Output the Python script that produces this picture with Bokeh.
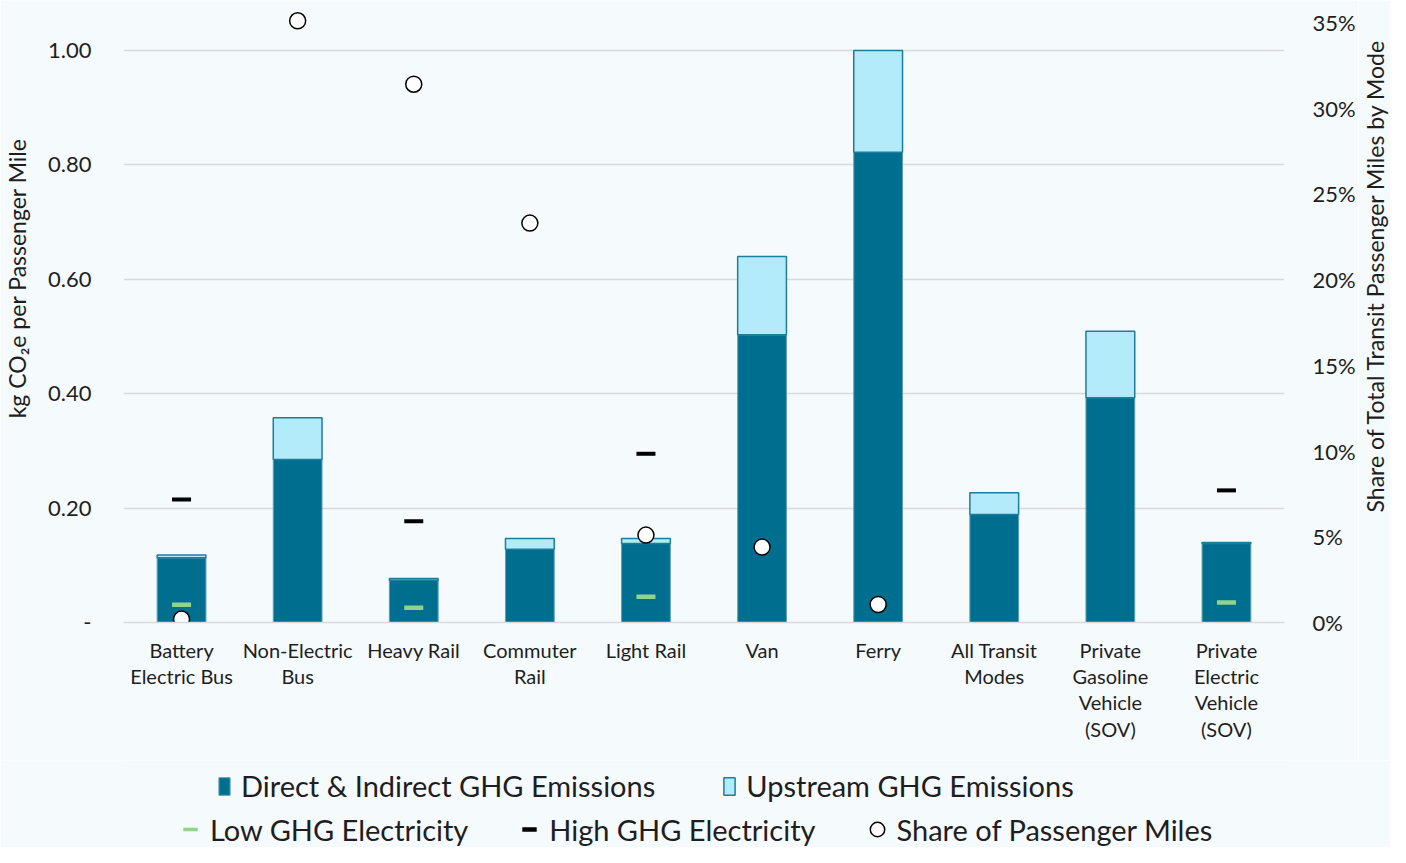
from bokeh.plotting import figure
from bokeh.layouts import column, row
from bokeh.models import (FactorRange, Range1d, LinearAxis, FixedTicker, Title,
                          NumeralTickFormatter, Legend, LegendItem, ColumnDataSource)
from bokeh.embed import file_html
from bokeh.resources import INLINE

categories = ["Battery\nElectric Bus", "Non-Electric\nBus", "Heavy Rail", "Commuter\nRail",
              "Light Rail", "Van", "Ferry", "All Transit\nModes",
              "Private\nGasoline\nVehicle\n(SOV)", "Private\nElectric\nVehicle\n(SOV)"]
direct = [0.113, 0.285, 0.074, 0.128, 0.138, 0.503, 0.822, 0.189, 0.393, 0.138]
upstream = [0.005, 0.073, 0.003, 0.019, 0.009, 0.137, 0.178, 0.038, 0.116, 0.002]

elec_modes = ["Battery\nElectric Bus", "Heavy Rail", "Light Rail", "Private\nElectric\nVehicle\n(SOV)"]
high_ghg = [0.215, 0.177, 0.295, 0.231]
low_ghg = [0.031, 0.026, 0.045, 0.035]

share_modes = ["Battery\nElectric Bus", "Non-Electric\nBus", "Heavy Rail", "Commuter\nRail",
               "Light Rail", "Van", "Ferry"]
share = [0.002, 0.351, 0.314, 0.233, 0.051, 0.044, 0.0105]

left_ticks = [0, 0.2, 0.4, 0.6, 0.8, 1.0]
right_ticks = [0, 0.05, 0.10, 0.15, 0.20, 0.25, 0.30, 0.35]

left_title = "kg CO₂e per Passenger Mile"
right_title = "Share of Total Transit Passenger Miles by Mode"
legend_row1 = ["Direct & Indirect GHG Emissions", "Upstream GHG Emissions"]
legend_row2 = ["Low GHG Electricity", "High GHG Electricity", "Share of Passenger Miles"]

BG = "#F5FAFD"
DARK = "#006F8F"
LIGHT = "#B3EBFA"
DARK_LINE = "#5E9FB8"
LIGHT_LINE = "#1C7E9E"
GREEN = "#92D38A"
TXT = "#1E1E1E"
FONT = "Lato"
GRID = "#D9D9D9"
W = 1390
W_TITLE = 32
NBSP = "\u00a0"

p = figure(x_range=FactorRange(*categories), y_range=Range1d(0, 1.07),
           width=W - W_TITLE, height=760, output_backend="svg", toolbar_location=None,
           background_fill_color=BG, border_fill_color=BG, outline_line_color=None,
           min_border_top=10, min_border_left=122, min_border_right=70, min_border_bottom=138)
p.extra_y_ranges = {"share": Range1d(0, 0.357)}

src = ColumnDataSource(dict(x=categories, direct=direct, upstream=upstream))
rs = p.vbar_stack(["direct", "upstream"], x="x", width=0.42, source=src,
                  fill_color=[DARK, LIGHT], line_color=[DARK_LINE, LIGHT_LINE],
                  line_width=[1, 1.5])

p.scatter(x=elec_modes, y=low_ghg, marker="dash", size=19, line_width=4.5, line_color=GREEN)
p.scatter(x=elec_modes, y=high_ghg, marker="dash", size=19, line_width=4, line_color="black")
p.scatter(x=share_modes, y=share, y_range_name="share", marker="circle",
          size=16, fill_color="white", line_color="black", line_width=1.5)

# left axis
yax = p.yaxis[0]
yax.ticker = FixedTicker(ticks=left_ticks)
yax.formatter = NumeralTickFormatter(format="0.00")
yax.major_label_overrides = {0: "-"}
yax.axis_label = NBSP * 13 + left_title
yax.major_label_standoff = 26
yax.axis_label_standoff = 14
yax.major_label_text_font_size = "22px"
yax.axis_label_text_font_size = "23px"
yax.axis_label_text_font_style = "normal"

# right axis (its title is drawn in a narrow strip to the right, reading upwards)
rax = LinearAxis(y_range_name="share", ticker=FixedTicker(ticks=right_ticks),
                 formatter=NumeralTickFormatter(format="0%"))
rax.major_label_standoff = 22
rax.major_label_text_font_size = "22px"
p.add_layout(rax, "right")

xax = p.xaxis[0]
xax.axis_line_color = GRID
xax.axis_line_width = 1.5
xax.major_label_standoff = 9
xax.major_label_text_font_size = "20px"
xax.major_label_text_line_height = 1.1

for ax in (yax, rax):
    ax.axis_line_color = None

for ax in (yax, rax, xax):
    ax.major_tick_line_color = None
    ax.minor_tick_line_color = None
    ax.major_label_text_font = FONT
    ax.axis_label_text_font = FONT
    ax.major_label_text_color = TXT
    ax.axis_label_text_color = TXT

p.xgrid.grid_line_color = None
p.ygrid.ticker = FixedTicker(ticks=left_ticks)
p.ygrid.grid_line_color = GRID
p.ygrid.grid_line_width = 1.5

# right title strip
rt = figure(width=W_TITLE, height=760, x_range=Range1d(0, 1), y_range=Range1d(0, 1),
            output_backend="svg", toolbar_location=None, x_axis_location=None,
            y_axis_location=None, background_fill_color=BG, border_fill_color=BG,
            outline_line_color=None, min_border_top=10, min_border_bottom=138,
            min_border_left=0, min_border_right=0)
rt.xgrid.visible = False
rt.ygrid.visible = False
rt.add_layout(Title(text=NBSP * 14 + right_title, align="center", standoff=0,
                    text_font=FONT, text_font_size="23px", text_font_style="normal",
                    text_color=TXT), "left")

# legend strip below the chart
lg = figure(width=W, height=87, x_range=Range1d(0, 1), y_range=Range1d(0, 1),
            output_backend="svg", toolbar_location=None, x_axis_location=None,
            y_axis_location=None, background_fill_color=BG, border_fill_color=BG,
            outline_line_color=None, min_border_top=0, min_border_bottom=0,
            min_border_left=122, min_border_right=102)
lg.xgrid.visible = False
lg.ygrid.visible = False
nan = float("nan")
proxy = ColumnDataSource(dict(x=[nan], y=[nan]))
g_direct = lg.vbar(x="x", top="y", width=0.1, source=proxy, fill_color=DARK, line_color=DARK_LINE)
g_up = lg.vbar(x="x", top="y", width=0.1, source=proxy, fill_color=LIGHT, line_color=LIGHT_LINE, line_width=1.5)
g_low = lg.scatter(x="x", y="y", source=proxy, marker="dash", line_width=3.5, line_color=GREEN)
g_high = lg.scatter(x="x", y="y", source=proxy, marker="dash", line_width=4.5, line_color="black")
g_share = lg.scatter(x="x", y="y", source=proxy, marker="circle", fill_color="white",
                     line_color="black", line_width=1.5)

common = dict(orientation="horizontal", padding=0, margin=0, background_fill_alpha=0,
              border_line_color=None, label_text_font=FONT, label_text_font_size="29px",
              label_text_color=TXT)
leg1 = Legend(items=[LegendItem(label=legend_row1[0], renderers=[g_direct]),
                     LegendItem(label=legend_row1[1], renderers=[g_up])],
              location=(95, 44), glyph_width=14, glyph_height=22,
              label_standoff=10, spacing=67, **common)
leg2 = Legend(items=[LegendItem(label=legend_row2[0], renderers=[g_low]),
                     LegendItem(label=legend_row2[1], renderers=[g_high]),
                     LegendItem(label=legend_row2[2], renderers=[g_share])],
              location=(48, 0), glyph_width=40, glyph_height=36,
              label_standoff=0, spacing=41, **common)
lg.add_layout(leg1)
lg.add_layout(leg2)

layout = column(row(p, rt, spacing=0), lg, spacing=0)
open("out.html", "w").write(file_html(layout, INLINE))
